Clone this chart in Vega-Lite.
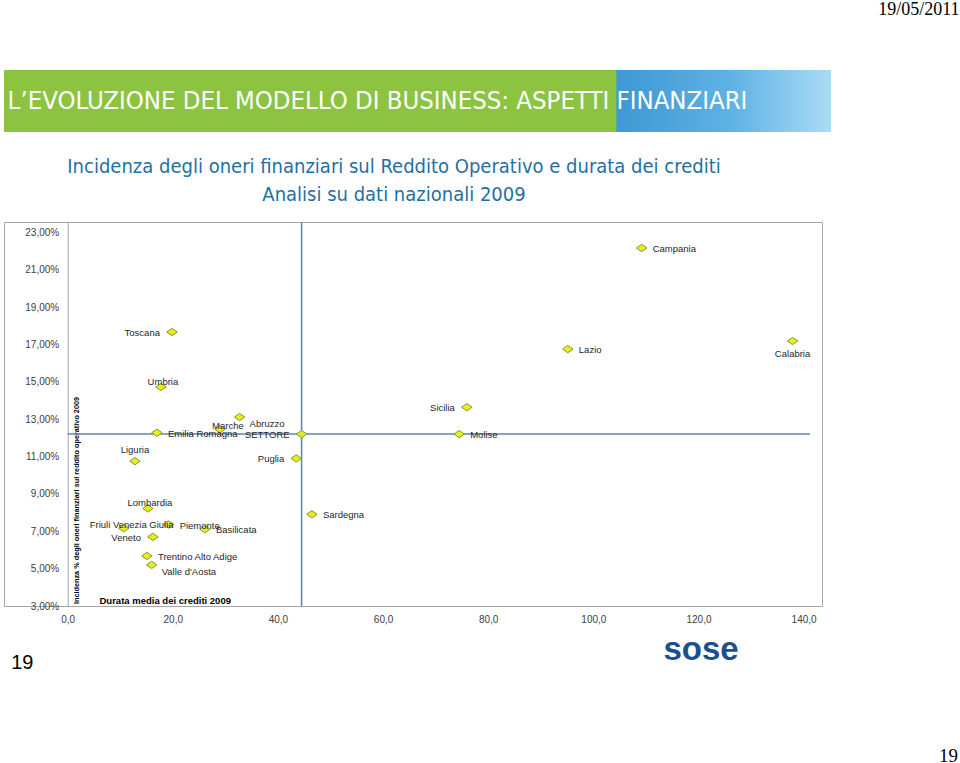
{
  "$schema": "https://vega.github.io/schema/vega-lite/v6.json",
  "padding": {"left": 3, "top": 0, "right": 0, "bottom": 0},
  "background": "white",
  "bounds": "flush",
  "spacing": 90,
  "vconcat": [
    {
      "width": 827,
      "height": 62,
      "view": {
        "stroke": null,
        "fill": {
          "gradient": "linear",
          "x1": 0, "y1": 0, "x2": 1, "y2": 0,
          "stops": [
            {"offset": 0, "color": "#8cc441"},
            {"offset": 0.74, "color": "#8cc441"},
            {"offset": 0.741, "color": "#3f98d4"},
            {"offset": 0.88, "color": "#5fb2e4"},
            {"offset": 1, "color": "#a9dcf5"}
          ]
        }
      },
      "data": {"values": [{"titolo": "L’EVOLUZIONE DEL MODELLO DI BUSINESS: ASPETTI FINANZIARI"}]},
      "layer": [
        {
          "mark": {
            "type": "text",
            "color": "#ffffff",
            "fontSize": 25.5,
            "font": "Liberation Sans Narrow, DejaVu Sans Condensed, Roboto Condensed, Liberation Sans",
            "dx": -40
          },
          "encoding": {"text": {"field": "titolo", "type": "nominal"}}
        },
        {
          "mark": {"type": "point", "opacity": 0, "size": 0, "strokeWidth": 0},
          "encoding": {
            "x": {
              "datum": 0,
              "type": "quantitative",
              "axis": {
                "orient": "bottom",
                "labels": false,
                "ticks": false,
                "domain": false,
                "grid": false,
                "title": "19",
                "titleX": 944,
                "titleY": 623,
                "titleAlign": "center",
                "titleBaseline": "middle",
                "titleFont": "Liberation Serif",
                "titleFontSize": 19,
                "titleFontWeight": "normal",
                "titleColor": "#000000"
              }
            },
            "y": {
              "datum": 0,
              "type": "quantitative",
              "axis": {
                "orient": "left",
                "labels": false,
                "ticks": false,
                "domain": false,
                "grid": false,
                "title": "19/05/2011",
                "titleAngle": 0,
                "titleX": 955,
                "titleY": -61,
                "titleAlign": "right",
                "titleBaseline": "middle",
                "titleFont": "Liberation Serif",
                "titleFontSize": 18,
                "titleFontWeight": "normal",
                "titleColor": "#000000"
              }
            }
          }
        }
      ]
    },
    {
      "width": 818,
      "height": 384,
      "view": {"stroke": "#a6a6a6", "strokeWidth": 1},
      "title": {
        "text": "Incidenza degli oneri finanziari sul Reddito Operativo e durata dei crediti",
        "subtitle": "Analisi su dati nazionali 2009",
        "anchor": "middle",
        "frame": "group",
        "dx": -19,
        "color": "#1f6fa5",
        "subtitleColor": "#1f6fa5",
        "fontSize": 20,
        "subtitleFontSize": 20,
        "font": "Liberation Sans Narrow, DejaVu Sans Condensed, Roboto Condensed, Liberation Sans",
        "subtitleFont": "Liberation Sans Narrow, DejaVu Sans Condensed, Roboto Condensed, Liberation Sans",
        "fontWeight": "normal",
        "subtitlePadding": 8,
        "offset": 16
      },
      "data": {
        "values": [
          {"regione": "Campania", "durata": 109.2, "incidenza": 22.16},
          {"regione": "Toscana", "durata": 19.84, "incidenza": 17.66},
          {"regione": "Lazio", "durata": 95.15, "incidenza": 16.75},
          {"regione": "Calabria", "durata": 137.9, "incidenza": 17.18},
          {"regione": "Umbria", "durata": 17.74, "incidenza": 14.72},
          {"regione": "Sicilia", "durata": 75.94, "incidenza": 13.64},
          {"regione": "Abruzzo", "durata": 32.71, "incidenza": 13.11},
          {"regione": "Marche", "durata": 28.97, "incidenza": 12.46},
          {"regione": "Emilia Romagna", "durata": 16.98, "incidenza": 12.27},
          {"regione": "SETTORE", "durata": 44.5, "incidenza": 12.2},
          {"regione": "Molise", "durata": 74.48, "incidenza": 12.2},
          {"regione": "Liguria", "durata": 12.8, "incidenza": 10.75},
          {"regione": "Puglia", "durata": 43.48, "incidenza": 10.9},
          {"regione": "Lombardia", "durata": 15.27, "incidenza": 8.22},
          {"regione": "Sardegna", "durata": 46.46, "incidenza": 7.91},
          {"regione": "Friuli Venezia Giulia", "durata": 10.65, "incidenza": 7.16},
          {"regione": "Piemonte", "durata": 19.21, "incidenza": 7.36},
          {"regione": "Basilicata", "durata": 26.11, "incidenza": 7.11},
          {"regione": "Veneto", "durata": 16.22, "incidenza": 6.7},
          {"regione": "Trentino Alto Adige", "durata": 15.08, "incidenza": 5.68},
          {"regione": "Valle d'Aosta", "durata": 15.98, "incidenza": 5.2}
        ]
      },
      "resolve": {"axis": {"y": "independent", "x": "independent"}},
      "layer": [
        {
          "transform": [{"filter": "datum.regione === 'SETTORE'"}],
          "layer": [
            {
              "mark": {"type": "rule", "color": "#5f82b5", "strokeWidth": 1.5},
              "encoding": {
                "x": {"datum": 0, "type": "quantitative"},
                "x2": {"datum": 141.2},
                "y": {
                  "field": "incidenza",
                  "type": "quantitative",
                  "scale": {"domain": [3, 23.55], "nice": false, "zero": false},
                  "axis": {
                    "orient": "right",
                    "labels": false,
                    "ticks": false,
                    "domain": false,
                    "grid": false,
                    "title": "Incidenza % degli oneri finanziari  sul reddito operativo 2009",
                    "titleAngle": -90,
                    "titleX": -746,
                    "titleY": 278,
                    "titleAlign": "center",
                    "titleBaseline": "middle",
                    "titleFont": "Liberation Sans",
                    "titleFontSize": 7.3,
                    "titleFontWeight": "bold",
                    "titleColor": "#000000"
                  }
                }
              }
            },
            {
              "mark": {"type": "rule", "color": "#5f82b5", "strokeWidth": 1.5},
              "encoding": {
                "x": {
                  "field": "durata",
                  "type": "quantitative",
                  "axis": {
                    "orient": "top",
                    "labels": false,
                    "ticks": false,
                    "domain": false,
                    "grid": false,
                    "title": "sose",
                    "titleX": 659,
                    "titleY": 427,
                    "titleAlign": "left",
                    "titleBaseline": "middle",
                    "titleFont": "Liberation Sans",
                    "titleFontSize": 33,
                    "titleFontWeight": "bold",
                    "titleColor": "#1b4f8e"
                  }
                }
              }
            }
          ]
        },
        {
          "encoding": {
            "x": {
              "field": "durata",
              "type": "quantitative",
              "scale": {"domain": [-12.11, 143.5], "nice": false, "zero": false},
              "axis": {
                "orient": "bottom",
                "values": [0, 20, 40, 60, 80, 100, 120, 140],
                "labelExpr": "replace(format(datum.value, '.1f'), '.', ',')",
                "labelFontSize": 10,
                "labelColor": "#404040",
                "labelPadding": 8,
                "labelOverlap": false,
                "ticks": false,
                "domain": false,
                "grid": false,
                "title": "Durata media dei crediti 2009",
                "titleFontSize": 9.5,
                "titleFontWeight": "bold",
                "titleColor": "#000000",
                "titleX": 95,
                "titleY": -3,
                "titleAlign": "left",
                "titleBaseline": "alphabetic"
              }
            },
            "y": {
              "field": "incidenza",
              "type": "quantitative",
              "axis": {
                "orient": "left",
                "offset": -63.7,
                "values": [3, 5, 7, 9, 11, 13, 15, 17, 19, 21, 23],
                "labelExpr": "replace(format(datum.value, '.2f'), '.', ',') + '%'",
                "labelFontSize": 10,
                "labelColor": "#404040",
                "labelPadding": 9,
                "labelOverlap": false,
                "labelSeparation": 0,
                "labelBound": false,
                "ticks": false,
                "domain": true,
                "domainColor": "#a6a6a6",
                "grid": false,
                "title": "19",
                "titleAngle": 0,
                "titleX": -57,
                "titleY": 440,
                "titleAlign": "left",
                "titleBaseline": "middle",
                "titleFontSize": 20,
                "titleFontWeight": "normal",
                "titleColor": "#000000"
              }
            }
          },
          "layer": [
            {
              "mark": {
                "type": "point",
                "shape": "M-1,0L0,-0.7L1,0L0,0.7Z",
                "filled": true,
                "fill": "#e6ee22",
                "stroke": "#7f9a2a",
                "strokeWidth": 1,
                "size": 110,
                "opacity": 1
              }
            },
            {
              "transform": [{"filter": "indexof(['Campania','Lazio','Emilia Romagna','Molise','Sardegna','Piemonte','Basilicata','Trentino Alto Adige'], datum.regione) >= 0"}],
              "mark": {"type": "text", "align": "left", "baseline": "middle", "dx": 11, "dy": 1, "fontSize": 9.5, "color": "#262626"},
              "encoding": {"text": {"field": "regione"}}
            },
            {
              "transform": [{"filter": "indexof(['Abruzzo',\"Valle d'Aosta\"], datum.regione) >= 0"}],
              "mark": {"type": "text", "align": "left", "baseline": "middle", "dx": 10, "dy": 7, "fontSize": 9.5, "color": "#262626"},
              "encoding": {"text": {"field": "regione"}}
            },
            {
              "transform": [{"filter": "indexof(['Toscana','Sicilia','SETTORE','Puglia','Veneto'], datum.regione) >= 0"}],
              "mark": {"type": "text", "align": "right", "baseline": "middle", "dx": -12, "dy": 1, "fontSize": 9.5, "color": "#262626"},
              "encoding": {"text": {"field": "regione"}}
            },
            {
              "transform": [{"filter": "indexof(['Umbria','Lombardia'], datum.regione) >= 0"}],
              "mark": {"type": "text", "align": "center", "baseline": "middle", "dx": 2, "dy": -5, "fontSize": 9.5, "color": "#262626"},
              "encoding": {"text": {"field": "regione"}}
            },
            {
              "transform": [{"filter": "datum.regione === 'Liguria'"}],
              "mark": {"type": "text", "align": "center", "baseline": "middle", "dy": -11, "fontSize": 9.5, "color": "#262626"},
              "encoding": {"text": {"field": "regione"}}
            },
            {
              "transform": [{"filter": "indexof(['Marche','Friuli Venezia Giulia'], datum.regione) >= 0"}],
              "mark": {"type": "text", "align": "center", "baseline": "middle", "dx": 8, "dy": -3, "fontSize": 9.5, "color": "#262626"},
              "encoding": {"text": {"field": "regione"}}
            },
            {
              "transform": [{"filter": "datum.regione === 'Calabria'"}],
              "mark": {"type": "text", "align": "center", "baseline": "middle", "dy": 13, "fontSize": 9.5, "color": "#262626"},
              "encoding": {"text": {"field": "regione"}}
            }
          ]
        }
      ]
    }
  ],
  "config": {
    "font": "Liberation Sans",
    "axis": {"labelFont": "Liberation Sans", "titleFont": "Liberation Sans", "labelOverlap": false}
  }
}
